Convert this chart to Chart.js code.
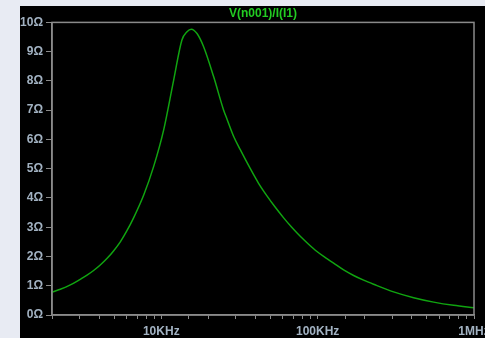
<!DOCTYPE html>
<html>
<head>
<meta charset="utf-8">
<script src="https://cdn.jsdelivr.net/npm/chart.js@4/dist/chart.umd.min.js"></script>
<style>
  html, body { margin: 0; padding: 0; overflow: hidden; background: #e8ebf3; width: 485px; height: 338px; }
  #plot { position: absolute; left: 20px; top: 6px; background: #000; }
</style>
</head>
<body>
<canvas id="plot" width="475" height="332"></canvas>
<script>
// AC sweep of the tank impedance, frequency in Hz, magnitude in ohms
const freqs = [2000, 2260, 2600, 3030, 3350, 3690, 4070, 4490, 4950, 5470, 6030, 6650, 7720,
               8930, 10350, 12000, 13550, 14600, 15560, 16920, 18650, 21630, 25050, 26300,
               29040, 32000, 37100, 41900, 47400, 53600, 60600, 68500, 77400, 87500, 99000,
               112000, 126500, 146600, 169900, 196800, 228000, 306000, 411000, 552000,
               741000, 1000000];
const impedance = [0.78, 0.88, 1.02, 1.22, 1.36, 1.52, 1.71, 1.93, 2.19, 2.5, 2.88, 3.32, 4.1,
                   5.07, 6.32, 8.03, 9.4, 9.68, 9.77, 9.62, 9.17, 8.14, 7.0, 6.7,
                   6.1, 5.65, 5.0, 4.5, 4.07, 3.68, 3.32, 2.99, 2.69, 2.42, 2.17,
                   1.96, 1.77, 1.54, 1.35, 1.19, 1.05, 0.79, 0.59, 0.44,
                   0.33, 0.25];
const decadeLabels = { 10000: '10KHz', 100000: '100KHz', 1000000: '1MHz' };
const traceName = 'V(n001)/I(I1)';

const axisColor = '#8a8a8a';
const labelColor = '#a2b2c2';
const tickFont = { family: 'Liberation Sans', size: 12, weight: 'bold' };

// box around the whole plot area
const frame = {
  id: 'frame',
  afterDraw(chart) {
    const a = chart.chartArea;
    const ctx = chart.ctx;
    ctx.save();
    ctx.strokeStyle = axisColor;
    ctx.lineWidth = 1.5;
    ctx.strokeRect(a.left, a.top, a.right - a.left, a.bottom - a.top);
    ctx.restore();
  }
};

new Chart('plot', {
  type: 'line',
  data: {
    datasets: [{
      data: freqs.map((f, i) => ({ x: f, y: impedance[i] })),
      borderColor: '#10a410',
      borderWidth: 1.5,
      pointRadius: 0,
      cubicInterpolationMode: 'monotone',
      fill: false
    }]
  },
  options: {
    responsive: false,
    animation: false,
    layout: { padding: { left: 0, right: 21, top: 0, bottom: 0 } },
    plugins: {
      legend: { display: false },
      tooltip: { enabled: false },
      title: {
        display: true,
        text: traceName,
        fullSize: false,
        color: '#22cc22',
        font: { family: 'Liberation Sans', size: 12, weight: 'bold', lineHeight: 1.2 },
        padding: { top: 0, bottom: 2 }
      }
    },
    scales: {
      x: {
        type: 'logarithmic',
        min: 2000,
        max: 1000000,
        afterFit(scale) { scale.height = 23; },
        border: { color: axisColor, width: 1.5 },
        grid: { drawOnChartArea: false, tickLength: 4, tickColor: axisColor, tickWidth: 1 },
        ticks: {
          autoSkip: false,
          maxRotation: 0,
          padding: 5,
          color: labelColor,
          font: tickFont,
          callback: (v) => decadeLabels[v] || ''
        }
      },
      y: {
        min: 0,
        max: 10,
        afterFit(scale) { scale.width = 32; },
        border: { color: axisColor, width: 1.5 },
        grid: { drawOnChartArea: false, tickLength: 6, tickColor: axisColor, tickWidth: 1 },
        ticks: {
          stepSize: 1,
          padding: 3,
          color: labelColor,
          font: tickFont,
          callback: (v) => v + 'Ω'
        }
      }
    }
  },
  plugins: [frame]
});
</script>
</body>
</html>
